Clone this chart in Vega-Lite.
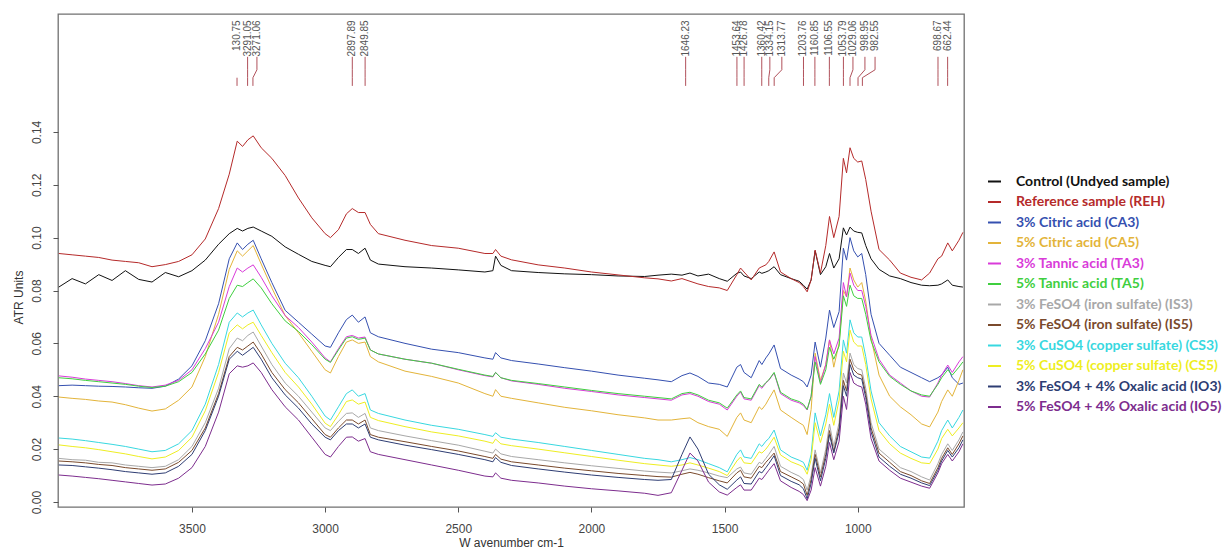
{
"$schema":"https://vega.github.io/schema/vega-lite/v6.json",
"width":906,"height":493,"autosize":"none",
"padding":{"left":58,"top":14,"right":260,"bottom":42},
"background":"white",
"datasets":{
"spec":[
{"w":4000,"C":0.0813,"REH":0.094,"CA3":0.044,"CA5":0.0397,"TA3":0.0477,"TA5":0.047,"IS3":0.0165,"IS5":0.0155,"CS3":0.0242,"CS5":0.0216,"IO3":0.014,"IO5":0.0102},
{"w":3950,"C":0.0845,"REH":0.0935,"CA3":0.0442,"CA5":0.0392,"TA3":0.0472,"TA5":0.0466,"IS3":0.016,"IS5":0.0152,"CS3":0.0238,"CS5":0.021,"IO3":0.0138,"IO5":0.0098},
{"w":3900,"C":0.0825,"REH":0.093,"CA3":0.044,"CA5":0.0388,"TA3":0.0465,"TA5":0.046,"IS3":0.0158,"IS5":0.0148,"CS3":0.0232,"CS5":0.0205,"IO3":0.0133,"IO5":0.0093},
{"w":3850,"C":0.086,"REH":0.0925,"CA3":0.0438,"CA5":0.0382,"TA3":0.046,"TA5":0.0455,"IS3":0.015,"IS5":0.0142,"CS3":0.0225,"CS5":0.0198,"IO3":0.0128,"IO5":0.0088},
{"w":3800,"C":0.0838,"REH":0.0915,"CA3":0.0437,"CA5":0.0378,"TA3":0.0455,"TA5":0.045,"IS3":0.0148,"IS5":0.0138,"CS3":0.0218,"CS5":0.019,"IO3":0.0122,"IO5":0.0082},
{"w":3750,"C":0.0875,"REH":0.091,"CA3":0.0435,"CA5":0.0368,"TA3":0.0448,"TA5":0.0445,"IS3":0.014,"IS5":0.013,"CS3":0.021,"CS5":0.0182,"IO3":0.0115,"IO5":0.0076},
{"w":3700,"C":0.0842,"REH":0.0905,"CA3":0.0432,"CA5":0.0355,"TA3":0.044,"TA5":0.0438,"IS3":0.0135,"IS5":0.0125,"CS3":0.02,"CS5":0.0172,"IO3":0.011,"IO5":0.007},
{"w":3650,"C":0.0832,"REH":0.089,"CA3":0.043,"CA5":0.0344,"TA3":0.0435,"TA5":0.0433,"IS3":0.013,"IS5":0.012,"CS3":0.019,"CS5":0.0163,"IO3":0.0105,"IO5":0.0064},
{"w":3600,"C":0.0868,"REH":0.0898,"CA3":0.0438,"CA5":0.0352,"TA3":0.0442,"TA5":0.0438,"IS3":0.0135,"IS5":0.0125,"CS3":0.0195,"CS5":0.017,"IO3":0.011,"IO5":0.0068},
{"w":3550,"C":0.0852,"REH":0.091,"CA3":0.0465,"CA5":0.0385,"TA3":0.046,"TA5":0.0455,"IS3":0.016,"IS5":0.015,"CS3":0.022,"CS5":0.0195,"IO3":0.0135,"IO5":0.009},
{"w":3500,"C":0.0875,"REH":0.0935,"CA3":0.0515,"CA5":0.0435,"TA3":0.05,"TA5":0.049,"IS3":0.021,"IS5":0.0195,"CS3":0.027,"CS5":0.0245,"IO3":0.018,"IO5":0.013},
{"w":3450,"C":0.0915,"REH":0.0995,"CA3":0.061,"CA5":0.055,"TA3":0.058,"TA5":0.056,"IS3":0.03,"IS5":0.028,"CS3":0.037,"CS5":0.0345,"IO3":0.027,"IO5":0.021},
{"w":3400,"C":0.0975,"REH":0.111,"CA3":0.075,"CA5":0.071,"TA3":0.068,"TA5":0.065,"IS3":0.043,"IS5":0.041,"CS3":0.052,"CS5":0.049,"IO3":0.04,"IO5":0.034},
{"w":3360,"C":0.1015,"REH":0.124,"CA3":0.092,"CA5":0.088,"TA3":0.0815,"TA5":0.077,"IS3":0.058,"IS5":0.055,"CS3":0.068,"CS5":0.064,"IO3":0.054,"IO5":0.0485},
{"w":3330,"C":0.1035,"REH":0.1365,"CA3":0.098,"CA5":0.095,"TA3":0.0885,"TA5":0.082,"IS3":0.062,"IS5":0.0585,"CS3":0.0715,"CS5":0.067,"IO3":0.057,"IO5":0.0515},
{"w":3310,"C":0.1025,"REH":0.1345,"CA3":0.0955,"CA5":0.093,"TA3":0.087,"TA5":0.0815,"IS3":0.061,"IS5":0.0575,"CS3":0.07,"CS5":0.0655,"IO3":0.0555,"IO5":0.051},
{"w":3290,"C":0.1035,"REH":0.137,"CA3":0.0975,"CA5":0.095,"TA3":0.0885,"TA5":0.083,"IS3":0.063,"IS5":0.059,"CS3":0.0715,"CS5":0.067,"IO3":0.057,"IO5":0.0515},
{"w":3270,"C":0.104,"REH":0.1385,"CA3":0.099,"CA5":0.097,"TA3":0.0897,"TA5":0.0844,"IS3":0.0643,"IS5":0.0605,"CS3":0.0726,"CS5":0.068,"IO3":0.0585,"IO5":0.0526},
{"w":3240,"C":0.1025,"REH":0.134,"CA3":0.092,"CA5":0.09,"TA3":0.085,"TA5":0.081,"IS3":0.059,"IS5":0.056,"CS3":0.067,"CS5":0.063,"IO3":0.054,"IO5":0.049},
{"w":3200,"C":0.1005,"REH":0.13,"CA3":0.083,"CA5":0.081,"TA3":0.078,"TA5":0.075,"IS3":0.052,"IS5":0.049,"CS3":0.06,"CS5":0.0565,"IO3":0.047,"IO5":0.0425},
{"w":3150,"C":0.0965,"REH":0.1235,"CA3":0.0725,"CA5":0.0705,"TA3":0.0705,"TA5":0.0685,"IS3":0.045,"IS5":0.0425,"CS3":0.0525,"CS5":0.049,"IO3":0.0405,"IO5":0.036},
{"w":3100,"C":0.0937,"REH":0.115,"CA3":0.068,"CA5":0.064,"TA3":0.066,"TA5":0.0645,"IS3":0.04,"IS5":0.0375,"CS3":0.047,"CS5":0.0435,"IO3":0.0355,"IO5":0.031},
{"w":3050,"C":0.091,"REH":0.1075,"CA3":0.0635,"CA5":0.057,"TA3":0.0605,"TA5":0.0595,"IS3":0.034,"IS5":0.0315,"CS3":0.04,"CS5":0.037,"IO3":0.0295,"IO5":0.0245},
{"w":3000,"C":0.0895,"REH":0.1015,"CA3":0.059,"CA5":0.05,"TA3":0.0545,"TA5":0.054,"IS3":0.028,"IS5":0.0255,"CS3":0.0325,"CS5":0.0298,"IO3":0.0245,"IO5":0.018},
{"w":2980,"C":0.089,"REH":0.1,"CA3":0.0585,"CA5":0.0488,"TA3":0.053,"TA5":0.0528,"IS3":0.027,"IS5":0.0245,"CS3":0.031,"CS5":0.0285,"IO3":0.0235,"IO5":0.017},
{"w":2950,"C":0.0925,"REH":0.103,"CA3":0.064,"CA5":0.055,"TA3":0.058,"TA5":0.0575,"IS3":0.0305,"IS5":0.028,"CS3":0.036,"CS5":0.033,"IO3":0.027,"IO5":0.021},
{"w":2920,"C":0.0955,"REH":0.109,"CA3":0.069,"CA5":0.0605,"TA3":0.0625,"TA5":0.062,"IS3":0.0335,"IS5":0.031,"CS3":0.041,"CS5":0.038,"IO3":0.0295,"IO5":0.0245},
{"w":2898,"C":0.0955,"REH":0.111,"CA3":0.0707,"CA5":0.0613,"TA3":0.063,"TA5":0.0625,"IS3":0.0337,"IS5":0.031,"CS3":0.0424,"CS5":0.0386,"IO3":0.0295,"IO5":0.0246},
{"w":2875,"C":0.094,"REH":0.1095,"CA3":0.068,"CA5":0.06,"TA3":0.062,"TA5":0.0615,"IS3":0.032,"IS5":0.0295,"CS3":0.04,"CS5":0.037,"IO3":0.028,"IO5":0.023},
{"w":2850,"C":0.096,"REH":0.1095,"CA3":0.07,"CA5":0.0605,"TA3":0.0624,"TA5":0.062,"IS3":0.0335,"IS5":0.031,"CS3":0.041,"CS5":0.0378,"IO3":0.0295,"IO5":0.024},
{"w":2830,"C":0.0915,"REH":0.105,"CA3":0.064,"CA5":0.055,"TA3":0.0575,"TA5":0.0575,"IS3":0.028,"IS5":0.0255,"CS3":0.0348,"CS5":0.032,"IO3":0.0245,"IO5":0.019},
{"w":2800,"C":0.09,"REH":0.1015,"CA3":0.0625,"CA5":0.053,"TA3":0.056,"TA5":0.056,"IS3":0.027,"IS5":0.0245,"CS3":0.0335,"CS5":0.0308,"IO3":0.0235,"IO5":0.018},
{"w":2700,"C":0.089,"REH":0.099,"CA3":0.06,"CA5":0.0495,"TA3":0.054,"TA5":0.054,"IS3":0.025,"IS5":0.0228,"CS3":0.031,"CS5":0.0285,"IO3":0.0215,"IO5":0.016},
{"w":2600,"C":0.0885,"REH":0.097,"CA3":0.0578,"CA5":0.0475,"TA3":0.0525,"TA5":0.0525,"IS3":0.0232,"IS5":0.021,"CS3":0.029,"CS5":0.0265,"IO3":0.0198,"IO5":0.014},
{"w":2500,"C":0.0878,"REH":0.096,"CA3":0.0565,"CA5":0.045,"TA3":0.05,"TA5":0.0502,"IS3":0.0215,"IS5":0.0193,"CS3":0.0275,"CS5":0.025,"IO3":0.018,"IO5":0.012},
{"w":2400,"C":0.087,"REH":0.094,"CA3":0.0545,"CA5":0.041,"TA3":0.0478,"TA5":0.048,"IS3":0.0192,"IS5":0.0172,"CS3":0.0255,"CS5":0.023,"IO3":0.016,"IO5":0.0098},
{"w":2370,"C":0.0875,"REH":0.094,"CA3":0.054,"CA5":0.04,"TA3":0.0473,"TA5":0.0475,"IS3":0.0185,"IS5":0.0165,"CS3":0.0248,"CS5":0.0222,"IO3":0.0152,"IO5":0.0095},
{"w":2360,"C":0.093,"REH":0.0955,"CA3":0.0565,"CA5":0.0425,"TA3":0.049,"TA5":0.049,"IS3":0.02,"IS5":0.018,"CS3":0.0262,"CS5":0.0238,"IO3":0.0168,"IO5":0.011},
{"w":2340,"C":0.0895,"REH":0.093,"CA3":0.0545,"CA5":0.04,"TA3":0.047,"TA5":0.047,"IS3":0.0182,"IS5":0.0162,"CS3":0.0245,"CS5":0.022,"IO3":0.015,"IO5":0.009},
{"w":2300,"C":0.0875,"REH":0.0916,"CA3":0.0535,"CA5":0.0392,"TA3":0.0458,"TA5":0.046,"IS3":0.0172,"IS5":0.0152,"CS3":0.0238,"CS5":0.0213,"IO3":0.0138,"IO5":0.0082},
{"w":2200,"C":0.0868,"REH":0.0897,"CA3":0.0522,"CA5":0.0375,"TA3":0.0445,"TA5":0.0448,"IS3":0.016,"IS5":0.014,"CS3":0.0225,"CS5":0.02,"IO3":0.0125,"IO5":0.0072},
{"w":2100,"C":0.0863,"REH":0.0885,"CA3":0.0508,"CA5":0.0358,"TA3":0.043,"TA5":0.0435,"IS3":0.0148,"IS5":0.0128,"CS3":0.021,"CS5":0.0186,"IO3":0.0113,"IO5":0.006},
{"w":2000,"C":0.086,"REH":0.087,"CA3":0.0495,"CA5":0.0345,"TA3":0.0418,"TA5":0.0422,"IS3":0.0137,"IS5":0.0118,"CS3":0.0195,"CS5":0.0172,"IO3":0.0102,"IO5":0.005},
{"w":1900,"C":0.0855,"REH":0.0859,"CA3":0.048,"CA5":0.033,"TA3":0.0405,"TA5":0.041,"IS3":0.0127,"IS5":0.0108,"CS3":0.018,"CS5":0.0158,"IO3":0.0093,"IO5":0.0042},
{"w":1800,"C":0.0853,"REH":0.0848,"CA3":0.0468,"CA5":0.0318,"TA3":0.0395,"TA5":0.04,"IS3":0.0117,"IS5":0.01,"CS3":0.0165,"CS5":0.0145,"IO3":0.0085,"IO5":0.0033},
{"w":1750,"C":0.0858,"REH":0.0844,"CA3":0.0462,"CA5":0.031,"TA3":0.039,"TA5":0.0395,"IS3":0.0113,"IS5":0.0096,"CS3":0.016,"CS5":0.014,"IO3":0.0082,"IO5":0.0025},
{"w":1700,"C":0.0862,"REH":0.0836,"CA3":0.0455,"CA5":0.031,"TA3":0.0385,"TA5":0.039,"IS3":0.011,"IS5":0.0094,"CS3":0.0152,"CS5":0.0135,"IO3":0.0085,"IO5":0.0035},
{"w":1660,"C":0.0858,"REH":0.0845,"CA3":0.0478,"CA5":0.0315,"TA3":0.0405,"TA5":0.041,"IS3":0.0118,"IS5":0.0105,"CS3":0.016,"CS5":0.014,"IO3":0.018,"IO5":0.012},
{"w":1630,"C":0.0866,"REH":0.0835,"CA3":0.0488,"CA5":0.0318,"TA3":0.041,"TA5":0.0415,"IS3":0.0125,"IS5":0.0112,"CS3":0.0168,"CS5":0.0148,"IO3":0.0246,"IO5":0.0185},
{"w":1600,"C":0.0855,"REH":0.0825,"CA3":0.0475,"CA5":0.03,"TA3":0.04,"TA5":0.0405,"IS3":0.012,"IS5":0.0105,"CS3":0.016,"CS5":0.014,"IO3":0.02,"IO5":0.0155},
{"w":1560,"C":0.0862,"REH":0.0815,"CA3":0.045,"CA5":0.0285,"TA3":0.038,"TA5":0.0385,"IS3":0.011,"IS5":0.0092,"CS3":0.0145,"CS5":0.0128,"IO3":0.0105,"IO5":0.0075},
{"w":1520,"C":0.0845,"REH":0.081,"CA3":0.0445,"CA5":0.0275,"TA3":0.037,"TA5":0.0375,"IS3":0.0098,"IS5":0.008,"CS3":0.013,"CS5":0.0115,"IO3":0.0065,"IO5":0.0038},
{"w":1490,"C":0.0835,"REH":0.08,"CA3":0.0435,"CA5":0.0248,"TA3":0.0348,"TA5":0.0355,"IS3":0.0092,"IS5":0.0072,"CS3":0.0114,"CS5":0.01,"IO3":0.0048,"IO5":0.0026},
{"w":1454,"C":0.0865,"REH":0.086,"CA3":0.051,"CA5":0.032,"TA3":0.04,"TA5":0.0405,"IS3":0.0125,"IS5":0.011,"CS3":0.018,"CS5":0.0155,"IO3":0.0083,"IO5":0.0055},
{"w":1440,"C":0.087,"REH":0.0885,"CA3":0.052,"CA5":0.0337,"TA3":0.0416,"TA5":0.042,"IS3":0.0132,"IS5":0.012,"CS3":0.0197,"CS5":0.017,"IO3":0.0095,"IO5":0.0065},
{"w":1427,"C":0.0855,"REH":0.087,"CA3":0.049,"CA5":0.031,"TA3":0.039,"TA5":0.0395,"IS3":0.011,"IS5":0.0095,"CS3":0.017,"CS5":0.0148,"IO3":0.007,"IO5":0.0045},
{"w":1400,"C":0.0845,"REH":0.084,"CA3":0.047,"CA5":0.03,"TA3":0.0385,"TA5":0.039,"IS3":0.0105,"IS5":0.009,"CS3":0.0165,"CS5":0.0145,"IO3":0.0068,"IO5":0.0045},
{"w":1370,"C":0.087,"REH":0.0885,"CA3":0.0535,"CA5":0.036,"TA3":0.044,"TA5":0.0445,"IS3":0.015,"IS5":0.0135,"CS3":0.022,"CS5":0.019,"IO3":0.0115,"IO5":0.009},
{"w":1360,"C":0.0865,"REH":0.089,"CA3":0.052,"CA5":0.035,"TA3":0.043,"TA5":0.0435,"IS3":0.0145,"IS5":0.013,"CS3":0.021,"CS5":0.0185,"IO3":0.011,"IO5":0.0085},
{"w":1345,"C":0.087,"REH":0.0897,"CA3":0.0545,"CA5":0.037,"TA3":0.045,"TA5":0.0452,"IS3":0.0165,"IS5":0.015,"CS3":0.023,"CS5":0.02,"IO3":0.013,"IO5":0.0105},
{"w":1334,"C":0.0875,"REH":0.091,"CA3":0.056,"CA5":0.039,"TA3":0.046,"TA5":0.0462,"IS3":0.018,"IS5":0.0162,"CS3":0.024,"CS5":0.0215,"IO3":0.0145,"IO5":0.012},
{"w":1314,"C":0.089,"REH":0.0946,"CA3":0.0594,"CA5":0.0424,"TA3":0.0488,"TA5":0.049,"IS3":0.021,"IS5":0.0185,"CS3":0.0272,"CS5":0.0245,"IO3":0.0175,"IO5":0.0145},
{"w":1290,"C":0.086,"REH":0.087,"CA3":0.0505,"CA5":0.0348,"TA3":0.041,"TA5":0.0415,"IS3":0.0135,"IS5":0.0115,"CS3":0.0197,"CS5":0.0178,"IO3":0.01,"IO5":0.008},
{"w":1250,"C":0.0845,"REH":0.0845,"CA3":0.048,"CA5":0.032,"TA3":0.0385,"TA5":0.039,"IS3":0.0112,"IS5":0.0095,"CS3":0.017,"CS5":0.0152,"IO3":0.0078,"IO5":0.0055},
{"w":1220,"C":0.0835,"REH":0.083,"CA3":0.0465,"CA5":0.03,"TA3":0.0375,"TA5":0.038,"IS3":0.0098,"IS5":0.008,"CS3":0.0158,"CS5":0.014,"IO3":0.0065,"IO5":0.004},
{"w":1204,"C":0.082,"REH":0.0815,"CA3":0.0455,"CA5":0.029,"TA3":0.0365,"TA5":0.037,"IS3":0.0085,"IS5":0.0068,"CS3":0.015,"CS5":0.0132,"IO3":0.005,"IO5":0.0028},
{"w":1190,"C":0.0805,"REH":0.0795,"CA3":0.0435,"CA5":0.0255,"TA3":0.0348,"TA5":0.035,"IS3":0.0045,"IS5":0.0025,"CS3":0.012,"CS5":0.0105,"IO3":0.0012,"IO5":0.0005},
{"w":1175,"C":0.084,"REH":0.084,"CA3":0.048,"CA5":0.035,"TA3":0.04,"TA5":0.04,"IS3":0.01,"IS5":0.0085,"CS3":0.018,"CS5":0.016,"IO3":0.007,"IO5":0.0045},
{"w":1160,"C":0.095,"REH":0.0953,"CA3":0.0605,"CA5":0.0563,"TA3":0.055,"TA5":0.053,"IS3":0.0197,"IS5":0.018,"CS3":0.0337,"CS5":0.03,"IO3":0.0165,"IO5":0.013},
{"w":1140,"C":0.086,"REH":0.0866,"CA3":0.051,"CA5":0.046,"TA3":0.045,"TA5":0.0445,"IS3":0.011,"IS5":0.0095,"CS3":0.025,"CS5":0.0225,"IO3":0.008,"IO5":0.006},
{"w":1120,"C":0.089,"REH":0.097,"CA3":0.062,"CA5":0.052,"TA3":0.052,"TA5":0.05,"IS3":0.02,"IS5":0.018,"CS3":0.033,"CS5":0.0295,"IO3":0.0165,"IO5":0.0135},
{"w":1106,"C":0.094,"REH":0.108,"CA3":0.0726,"CA5":0.0613,"TA3":0.0613,"TA5":0.0585,"IS3":0.0295,"IS5":0.027,"CS3":0.041,"CS5":0.037,"IO3":0.0255,"IO5":0.0225},
{"w":1090,"C":0.0885,"REH":0.1,"CA3":0.066,"CA5":0.051,"TA3":0.056,"TA5":0.054,"IS3":0.021,"IS5":0.019,"CS3":0.032,"CS5":0.029,"IO3":0.0185,"IO5":0.016},
{"w":1070,"C":0.092,"REH":0.108,"CA3":0.072,"CA5":0.06,"TA3":0.062,"TA5":0.059,"IS3":0.03,"IS5":0.028,"CS3":0.042,"CS5":0.0385,"IO3":0.0265,"IO5":0.023},
{"w":1054,"C":0.1037,"REH":0.13,"CA3":0.096,"CA5":0.08,"TA3":0.083,"TA5":0.078,"IS3":0.0488,"IS5":0.046,"CS3":0.0613,"CS5":0.057,"IO3":0.044,"IO5":0.04},
{"w":1042,"C":0.101,"REH":0.1245,"CA3":0.0915,"CA5":0.0776,"TA3":0.0776,"TA5":0.074,"IS3":0.045,"IS5":0.042,"CS3":0.0563,"CS5":0.053,"IO3":0.04,"IO5":0.035},
{"w":1029,"C":0.104,"REH":0.134,"CA3":0.1,"CA5":0.0885,"TA3":0.0866,"TA5":0.082,"IS3":0.0563,"IS5":0.054,"CS3":0.0689,"CS5":0.065,"IO3":0.052,"IO5":0.049},
{"w":1015,"C":0.1025,"REH":0.13,"CA3":0.095,"CA5":0.084,"TA3":0.082,"TA5":0.078,"IS3":0.052,"IS5":0.05,"CS3":0.064,"CS5":0.0605,"IO3":0.048,"IO5":0.045},
{"w":1000,"C":0.102,"REH":0.1286,"CA3":0.0927,"CA5":0.0813,"TA3":0.08,"TA5":0.077,"IS3":0.0505,"IS5":0.0485,"CS3":0.0624,"CS5":0.059,"IO3":0.047,"IO5":0.044},
{"w":985,"C":0.1018,"REH":0.129,"CA3":0.094,"CA5":0.083,"TA3":0.08,"TA5":0.077,"IS3":0.05,"IS5":0.048,"CS3":0.0624,"CS5":0.059,"IO3":0.0465,"IO5":0.0435},
{"w":970,"C":0.097,"REH":0.122,"CA3":0.086,"CA5":0.076,"TA3":0.074,"TA5":0.071,"IS3":0.043,"IS5":0.041,"CS3":0.055,"CS5":0.052,"IO3":0.0395,"IO5":0.037},
{"w":950,"C":0.092,"REH":0.11,"CA3":0.071,"CA5":0.062,"TA3":0.063,"TA5":0.061,"IS3":0.03,"IS5":0.028,"CS3":0.042,"CS5":0.039,"IO3":0.0265,"IO5":0.024},
{"w":920,"C":0.088,"REH":0.0955,"CA3":0.06,"CA5":0.048,"TA3":0.054,"TA5":0.053,"IS3":0.02,"IS5":0.0185,"CS3":0.03,"CS5":0.027,"IO3":0.017,"IO5":0.0155},
{"w":880,"C":0.0855,"REH":0.0915,"CA3":0.0555,"CA5":0.04,"TA3":0.048,"TA5":0.0475,"IS3":0.0165,"IS5":0.015,"CS3":0.025,"CS5":0.022,"IO3":0.0135,"IO5":0.012},
{"w":840,"C":0.0845,"REH":0.0866,"CA3":0.051,"CA5":0.036,"TA3":0.045,"TA5":0.0445,"IS3":0.013,"IS5":0.0115,"CS3":0.021,"CS5":0.0185,"IO3":0.0105,"IO5":0.009},
{"w":800,"C":0.083,"REH":0.085,"CA3":0.049,"CA5":0.033,"TA3":0.042,"TA5":0.042,"IS3":0.0115,"IS5":0.01,"CS3":0.019,"CS5":0.0165,"IO3":0.009,"IO5":0.0075},
{"w":760,"C":0.082,"REH":0.084,"CA3":0.047,"CA5":0.0295,"TA3":0.04,"TA5":0.0405,"IS3":0.0095,"IS5":0.008,"CS3":0.017,"CS5":0.0148,"IO3":0.0072,"IO5":0.006},
{"w":730,"C":0.0818,"REH":0.0866,"CA3":0.0455,"CA5":0.0284,"TA3":0.0397,"TA5":0.04,"IS3":0.0083,"IS5":0.007,"CS3":0.0166,"CS5":0.0145,"IO3":0.0062,"IO5":0.0052},
{"w":699,"C":0.082,"REH":0.092,"CA3":0.047,"CA5":0.034,"TA3":0.045,"TA5":0.0445,"IS3":0.0145,"IS5":0.013,"CS3":0.023,"CS5":0.02,"IO3":0.012,"IO5":0.011},
{"w":685,"C":0.0825,"REH":0.093,"CA3":0.048,"CA5":0.038,"TA3":0.048,"TA5":0.047,"IS3":0.018,"IS5":0.0165,"CS3":0.027,"CS5":0.024,"IO3":0.0155,"IO5":0.0145},
{"w":662,"C":0.084,"REH":0.098,"CA3":0.051,"CA5":0.0424,"TA3":0.0518,"TA5":0.05,"IS3":0.022,"IS5":0.0205,"CS3":0.031,"CS5":0.0275,"IO3":0.0195,"IO5":0.018},
{"w":645,"C":0.082,"REH":0.095,"CA3":0.047,"CA5":0.04,"TA3":0.049,"TA5":0.048,"IS3":0.0195,"IS5":0.018,"CS3":0.028,"CS5":0.025,"IO3":0.017,"IO5":0.0155},
{"w":620,"C":0.0815,"REH":0.099,"CA3":0.0445,"CA5":0.046,"TA3":0.053,"TA5":0.051,"IS3":0.0235,"IS5":0.022,"CS3":0.032,"CS5":0.028,"IO3":0.0205,"IO5":0.019},
{"w":605,"C":0.0813,"REH":0.102,"CA3":0.045,"CA5":0.05,"TA3":0.055,"TA5":0.053,"IS3":0.0265,"IS5":0.025,"CS3":0.0348,"CS5":0.03,"IO3":0.0235,"IO5":0.022}
],
"peaks":[
{"wn":3330.75,"lx":3330.75,"lab":"130.75","short":1},
{"wn":3291.05,"lx":3291.05,"lab":"3291.05","short":0},
{"wn":3271.06,"lx":3256,"lab":"3271.06","short":0},
{"wn":2897.89,"lx":2897.89,"lab":"2897.89","short":0},
{"wn":2849.85,"lx":2849.85,"lab":"2849.85","short":0},
{"wn":1646.23,"lx":1646.23,"lab":"1646.23","short":0},
{"wn":1453.64,"lx":1453.64,"lab":"1453.64","short":0},
{"wn":1426.78,"lx":1426.78,"lab":"1426.78","short":0},
{"wn":1360.42,"lx":1360.42,"lab":"1360.42","short":0},
{"wn":1334.15,"lx":1330,"lab":"1334.15","short":0},
{"wn":1313.77,"lx":1285,"lab":"1313.77","short":0},
{"wn":1203.76,"lx":1203.76,"lab":"1203.76","short":0},
{"wn":1160.85,"lx":1160.85,"lab":"1160.85","short":0},
{"wn":1106.55,"lx":1106.55,"lab":"1106.55","short":0},
{"wn":1053.79,"lx":1053.79,"lab":"1053.79","short":0},
{"wn":1029.06,"lx":1018,"lab":"1029.06","short":0},
{"wn":998.95,"lx":973,"lab":"998.95","short":0},
{"wn":982.55,"lx":935,"lab":"982.55","short":0},
{"wn":698.67,"lx":698.67,"lab":"698.67","short":0},
{"wn":662.44,"lx":662.44,"lab":"662.44","short":0}
]
},
"encoding":{
"x":{"type":"quantitative","scale":{"domain":[601,4003],"reverse":true,"nice":false,"zero":false},
 "axis":{"values":[1000,1500,2000,2500,3000,3500],"format":"d","title":"W avenumber cm-1","titleBaseline":"middle","titleY":35,"labelPadding":11}},
"y":{"type":"quantitative","scale":{"domain":[-0.0019,0.1846],"nice":false,"zero":false},
 "axis":{"values":[0,0.02,0.04,0.06,0.08,0.1,0.12,0.14],"format":".2f","title":"ATR Units","labelAngle":270,"labelAlign":"center","labelBaseline":"middle","labelPadding":17,"titleAngle":270,"titleX":-40,"titleY":283,"titleAlign":"center","titleBaseline":"middle"}}
},
"layer":[
{
"data":{"name":"spec"},
"transform":[{"fold":["C","REH","CA3","CA5","TA3","TA5","IS3","IS5","CS3","CS5","IO3","IO5"],"as":["series","v"]}],
"mark":{"type":"line","strokeWidth":1,"clip":true},
"encoding":{
"x":{"field":"w","type":"quantitative"},
"y":{"field":"v","type":"quantitative"},
"color":{"field":"series","type":"nominal",
 "scale":{"domain":["C","REH","CA3","CA5","TA3","TA5","IS3","IS5","CS3","CS5","IO3","IO5"],
  "range":["#111111","#b52a2a","#3550b0","#e3b43a","#d93bd9","#3fcf3f","#a8a8a8","#7a4a2c","#38d8e0","#eeee22","#2e3d73","#7d2d8e"]},
 "legend":{"orient":"none","legendX":929,"legendY":160,"title":null,"symbolType":"stroke","symbolSize":169,"symbolStrokeWidth":2,
  "labelFont":"Lato","labelFontSize":14,"labelFontWeight":"bold","labelLimit":400,"rowPadding":5.5,"labelOffset":14,"padding":0,
  "labelExpr":"{'C':'Control (Undyed sample)','REH':'Reference sample (REH)','CA3':'3% Citric acid (CA3)','CA5':'5% Citric acid (CA5)','TA3':'3% Tannic acid (TA3)','TA5':'5% Tannic acid (TA5)','IS3':'3% FeSO4 (iron sulfate)  (IS3)','IS5':'5% FeSO4 (iron sulfate)  (IS5)','CS3':'3% CuSO4 (copper sulfate) (CS3)','CS5':'5% CuSO4 (copper sulfate) (CS5)','IO3':'3% FeSO4 + 4% Oxalic acid (IO3)','IO5':'5% FeSO4 + 4% Oxalic acid (IO5)'}[datum.label]",
  "encode":{"labels":{"update":{"fill":{"scale":"color","field":"value"}}}}}}
}
},
{
"data":{"name":"peaks"},
"transform":[{"filter":"datum.short == 0"}],
"mark":{"type":"rule","color":"#b0505a","strokeWidth":1},
"encoding":{
"x":{"field":"lx","type":"quantitative"},
"y":{"datum":0.1684,"type":"quantitative"},
"y2":{"datum":0.1635}
}
},
{
"data":{"name":"peaks"},
"transform":[{"filter":"datum.short == 0"}],
"mark":{"type":"rule","color":"#b0505a","strokeWidth":1},
"encoding":{
"x":{"field":"lx","type":"quantitative"},
"x2":{"field":"wn"},
"y":{"datum":0.1635,"type":"quantitative"},
"y2":{"datum":0.1605}
}
},
{
"data":{"name":"peaks"},
"mark":{"type":"rule","color":"#b0505a","strokeWidth":1},
"encoding":{
"x":{"field":"wn","type":"quantitative"},
"y":{"datum":0.1605,"type":"quantitative"},
"y2":{"datum":0.1574}
}
},
{
"data":{"name":"peaks"},
"mark":{"type":"text","angle":270,"align":"right","baseline":"middle","fontSize":10,"font":"Liberation Sans","color":"#555555"},
"encoding":{
"x":{"field":"lx","type":"quantitative"},
"y":{"datum":0.1822,"type":"quantitative"},
"text":{"field":"lab"}
}
}
],
"config":{
"view":{"stroke":"#707070","strokeWidth":1.3},
"axis":{"domain":false,"grid":false,"tickColor":"#555555","tickSize":5,"labelColor":"#444444","labelFont":"Liberation Sans","labelFontSize":12,"titleFont":"Liberation Sans","titleFontSize":12,"titleFontWeight":"normal","titleColor":"#333333"}
}
}
